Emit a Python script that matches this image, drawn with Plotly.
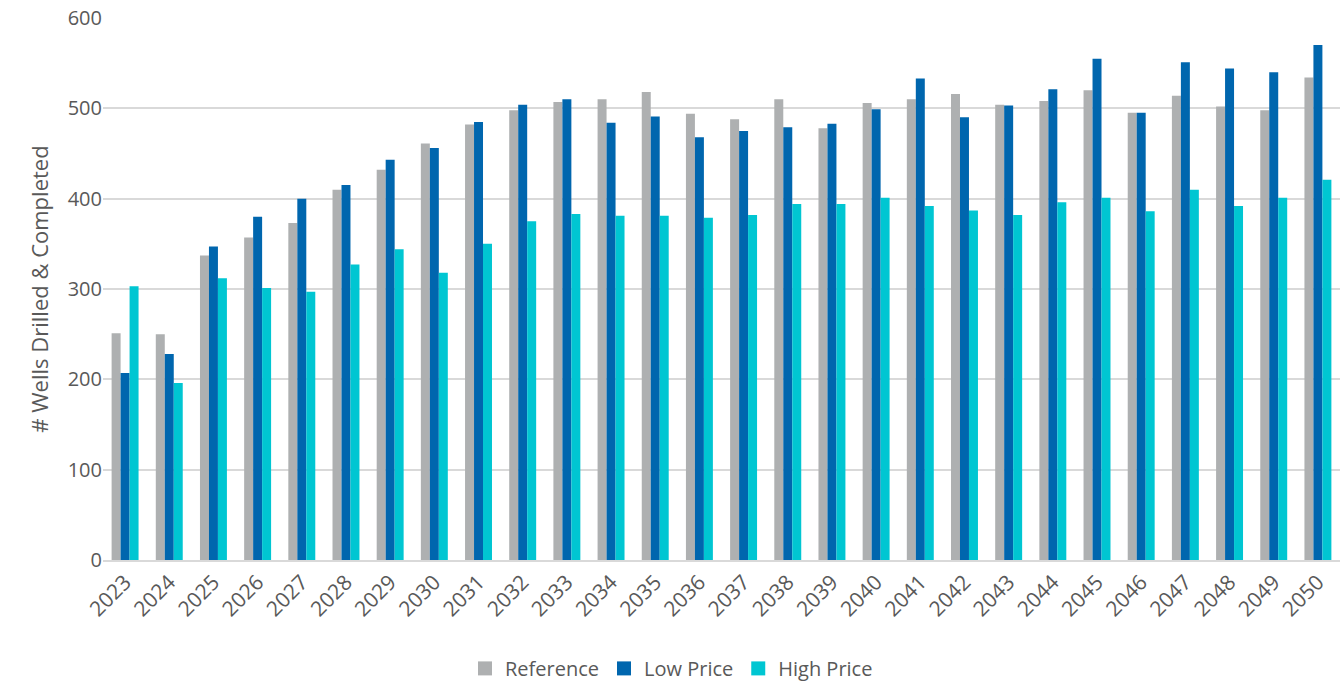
import plotly.graph_objects as go

years = [str(y) for y in range(2023, 2051)]
reference = [251, 250, 337, 357, 373, 410, 432, 461, 482, 498, 507, 510, 518, 494, 488, 510,
             478, 506, 510, 516, 504, 508, 520, 495, 514, 502, 498, 534]
low_price = [207, 228, 347, 380, 400, 415, 443, 456, 485, 504, 510, 484, 491, 468, 475, 479,
             483, 499, 533, 490, 503, 521, 555, 495, 551, 544, 540, 570]
high_price = [303, 196, 312, 301, 297, 327, 344, 318, 350, 375, 383, 381, 381, 379, 382, 394,
              394, 401, 392, 387, 382, 396, 401, 386, 410, 392, 401, 421]

font_family = "Open Sans, Liberation Sans, sans-serif"
fig = go.Figure()
series = [("Reference", reference, "#AEB0B1"),
          ("Low Price", low_price, "#0066AE"),
          ("High Price", high_price, "#00C6D2")]
for name, vals, col in series:
    fig.add_trace(go.Bar(x=years, y=vals, name=name, marker_color=col,
                         marker_line_width=0, showlegend=False, legendgroup=name))
for name, vals, col in series:
    fig.add_trace(go.Scatter(x=[None], y=[None], mode="markers", name=name, legendgroup=name,
                             marker=dict(symbol="square", size=14, color=col)))

fig.update_layout(
    width=1343, height=685,
    margin=dict(l=103, r=3, t=18, b=125, autoexpand=False),
    paper_bgcolor="white", plot_bgcolor="white",
    barmode="group", bargap=0.39, bargroupgap=0,
    font=dict(family=font_family, color="#595959", size=20),
    legend=dict(orientation="h", xref="container", x=0.5, xanchor="center",
                y=-0.2, yanchor="middle",
                font=dict(size=20, color="#595959"), itemwidth=30, traceorder="normal"),
    xaxis=dict(type="category", tickangle=-45, tickfont=dict(size=21), automargin=False,
               showline=True, linecolor="#D9D9D9", linewidth=1.5, ticks=""),
    yaxis=dict(range=[0, 600], dtick=100, showgrid=True, gridcolor="#D9D9D9", gridwidth=1.5,
               zeroline=False, tickfont=dict(size=20), automargin=False,
               title=dict(text="# Wells Drilled & Completed", font=dict(size=22), standoff=12)),
)
fig.write_html("out.html")
